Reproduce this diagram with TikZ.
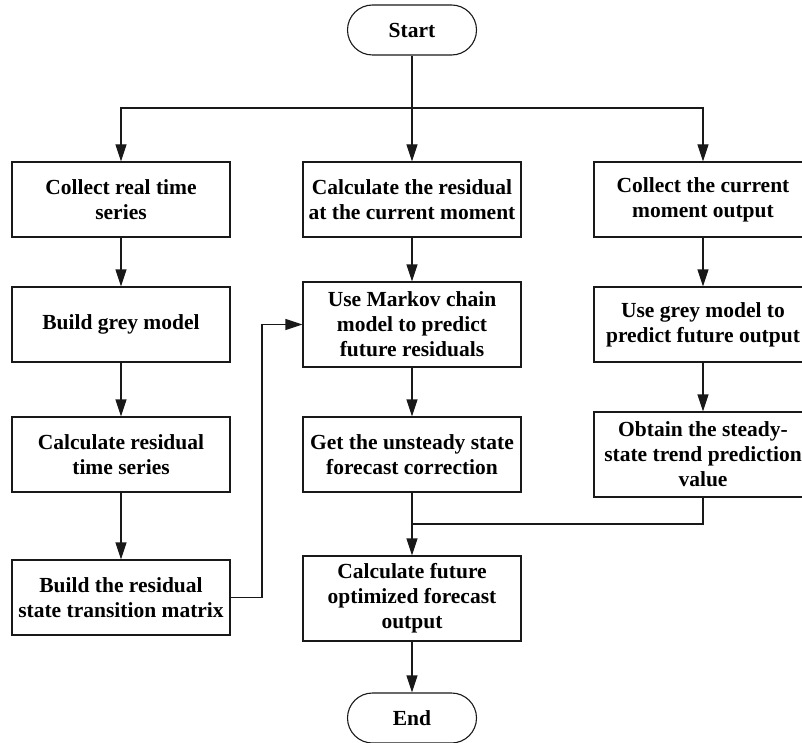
\documentclass[tikz,border=0pt]{standalone}
\usepackage{fontspec}
\setmainfont{Liberation Serif}
\usetikzlibrary{arrows.meta}
\definecolor{lnclr}{rgb}{0.1,0.1,0.1}
\tikzset{
  box/.style={draw=lnclr,line width=1.1pt,minimum width=218pt,minimum height=75pt,inner sep=1pt,align=center,font={\fontsize{21.5}{25}\selectfont\bfseries}},
  tallbox/.style={box,minimum height=85pt},
  term/.style={box,rounded corners=25pt,minimum width=129pt,minimum height=50pt}
}

\begin{document}
\begin{tikzpicture}[line cap=butt,line join=miter,>={Triangle[width=11pt,length=17pt]},x=1pt,y=-1pt]
\useasboundingbox (0,0) rectangle (802,743);
\fill[white] (0,0) rectangle (802,743);
\node[term] (start) at (412,30) {Start};
\node[box] (realser) at (121,199.5) {Collect real time\\series};
\node[box] (resnow) at (412,199.5) {Calculate the residual\\at the current moment};
\node[box] (outnow) at (703,199.5) {Collect the current\\moment output};
\node[box] (greymod) at (121,324.5) {Build grey model};
\node[tallbox] (markov) at (412,324.5) {Use Markov chain\\model to predict\\future residuals};
\node[box] (greypred) at (703,324.5) {Use grey model to\\predict future output};
\node[box] (resser) at (121,454.5) {Calculate residual\\time series};
\node[box] (unsteady) at (412,454.5) {Get the unsteady state\\forecast correction};
\node[tallbox] (steady) at (703,454.5) {Obtain the steady-\\state trend prediction\\value};
\node[box] (matrix) at (121,597.5) {Build the residual\\state transition matrix};
\node[tallbox] (final) at (412,598.5) {Calculate future\\optimized forecast\\output};
\node[term] (end) at (412,718) {End};
\coordinate (split) at (412,108);
\coordinate (back) at (262,597.5);
\coordinate (join) at (412,524);
\draw[->,color=lnclr,line width=1.1pt] (start) -- (resnow);
\draw[->,color=lnclr,line width=1.1pt] (split) -| (realser);
\draw[->,color=lnclr,line width=1.1pt] (split) -| (outnow);
\draw[->,color=lnclr,line width=1.1pt] (realser) -- (greymod);
\draw[->,color=lnclr,line width=1.1pt] (greymod) -- (resser);
\draw[->,color=lnclr,line width=1.1pt] (resser) -- (matrix);
\draw[->,color=lnclr,line width=1.1pt] (matrix.east) -- (back) |- (markov.west);
\draw[->,color=lnclr,line width=1.1pt] (resnow) -- (markov);
\draw[->,color=lnclr,line width=1.1pt] (markov) -- (unsteady);
\draw[->,color=lnclr,line width=1.1pt] (unsteady) -- (final);
\draw[color=lnclr,line width=1.1pt] (steady) |- (join);
\draw[->,color=lnclr,line width=1.1pt] (final) -- (end);
\draw[->,color=lnclr,line width=1.1pt] (outnow) -- (greypred);
\draw[->,color=lnclr,line width=1.1pt] (greypred) -- (steady);
\end{tikzpicture}
\end{document}
